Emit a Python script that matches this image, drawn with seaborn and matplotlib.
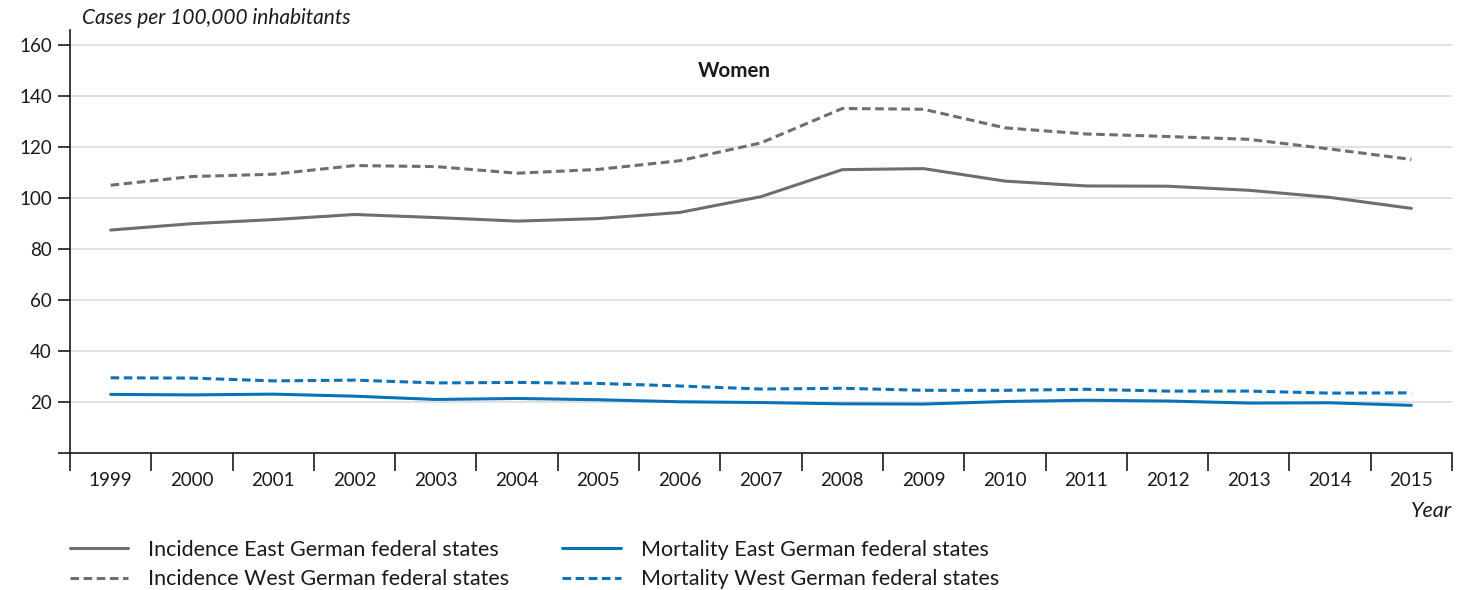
import matplotlib
matplotlib.use("Agg")
import matplotlib.pyplot as plt
import seaborn as sns
import pandas as pd
from matplotlib.ticker import FixedLocator

years = [str(y) for y in range(1999, 2016)]
incidence_east = [87.5, 90.0, 91.6, 93.6, 92.4, 91.0, 92.0, 94.4, 100.6, 111.2, 111.6, 106.7, 104.8, 104.7, 103.1, 100.3, 96.0]
incidence_west = [105.1, 108.5, 109.4, 112.8, 112.4, 109.8, 111.3, 114.7, 121.7, 135.2, 134.9, 127.6, 125.2, 124.2, 123.1, 119.3, 115.2]
mortality_east = [23.0, 22.8, 23.1, 22.3, 21.0, 21.4, 20.9, 20.1, 19.8, 19.3, 19.2, 20.2, 20.7, 20.4, 19.6, 19.7, 18.7]
mortality_west = [29.5, 29.4, 28.3, 28.6, 27.5, 27.7, 27.3, 26.3, 25.1, 25.4, 24.6, 24.6, 25.0, 24.3, 24.3, 23.5, 23.6]

labels = ["Incidence East German federal states", "Incidence West German federal states",
          "Mortality East German federal states", "Mortality West German federal states"]

GRAY = "#6d6e71"
BLUE = "#0b72b9"

sns.set_theme(style="white")
plt.rcParams["font.family"] = ["Lato", "DejaVu Sans"]

fig = plt.figure(figsize=(14.68, 5.90), dpi=100)
ax = fig.add_axes([70/1468, 1-453/590, (1452-70)/1468, (453-30)/590])

series = [
    (incidence_east, labels[0], GRAY, None),
    (incidence_west, labels[1], GRAY, (2.8, 1.5)),
    (mortality_east, labels[2], BLUE, None),
    (mortality_west, labels[3], BLUE, (2.8, 1.5)),
]
handles = []
for vals, lab, col, dash in series:
    df = pd.DataFrame({"year": years, "value": vals})
    sns.lineplot(data=df, x="year", y="value", ax=ax, color=col, lw=2.2, label=lab, legend=False)
    line = ax.lines[-1]
    if dash is not None:
        line.set_dashes(dash)
    handles.append(line)

ax.set_xlim(-0.5, len(years) - 0.5)
ax.set_ylim(0, 166)
ax.set_yticks(range(0, 161, 20))
ax.set_yticklabels([""] + [str(v) for v in range(20, 161, 20)])
ax.grid(axis="y", color="#dcdcdc", lw=1.2)
ax.grid(axis="x", visible=False)
ax.set_axisbelow(True)
for s in ["top", "right"]:
    ax.spines[s].set_visible(False)
for s in ["left", "bottom"]:
    ax.spines[s].set_color("#1a1a1a")
    ax.spines[s].set_linewidth(1.2)

ax.xaxis.set_minor_locator(FixedLocator([i - 0.5 for i in range(len(years) + 1)]))
ax.tick_params(axis="x", which="major", length=0, pad=14, labelsize=13.5, colors="#1a1a1a")
ax.tick_params(axis="x", which="minor", length=13, width=1.2, color="#1a1a1a", direction="out", bottom=True)
ax.tick_params(axis="y", which="major", length=9, width=1.2, color="#1a1a1a", direction="out", left=True, labelsize=13.5, pad=4, colors="#1a1a1a")
ax.set_xlabel("")
ax.set_ylabel("")

fig.text(82/1468, 1-18/590, "Cases per 100,000 inhabitants", style="italic", fontsize=15, va="center", ha="left", color="#1a1a1a")
fig.text(1452/1468, 1-511/590, "Year", style="italic", fontsize=15.5, va="center", ha="right", color="#1a1a1a")
ax.text(7.67, 150, "Women", fontweight="bold", fontsize=14.8, ha="center", va="center", color="#1a1a1a")

leg = fig.legend(handles=handles, labels=labels, ncol=2,
                 loc="upper left", bbox_to_anchor=(70/1468, 1-540/590), frameon=False,
                 fontsize=15.5, handlelength=2.7, handletextpad=0.93, columnspacing=2.47,
                 labelspacing=0.42, borderaxespad=0, borderpad=0)
for t in leg.get_texts():
    t.set_color("#1a1a1a")

fig.savefig("out.png", dpi=100)
